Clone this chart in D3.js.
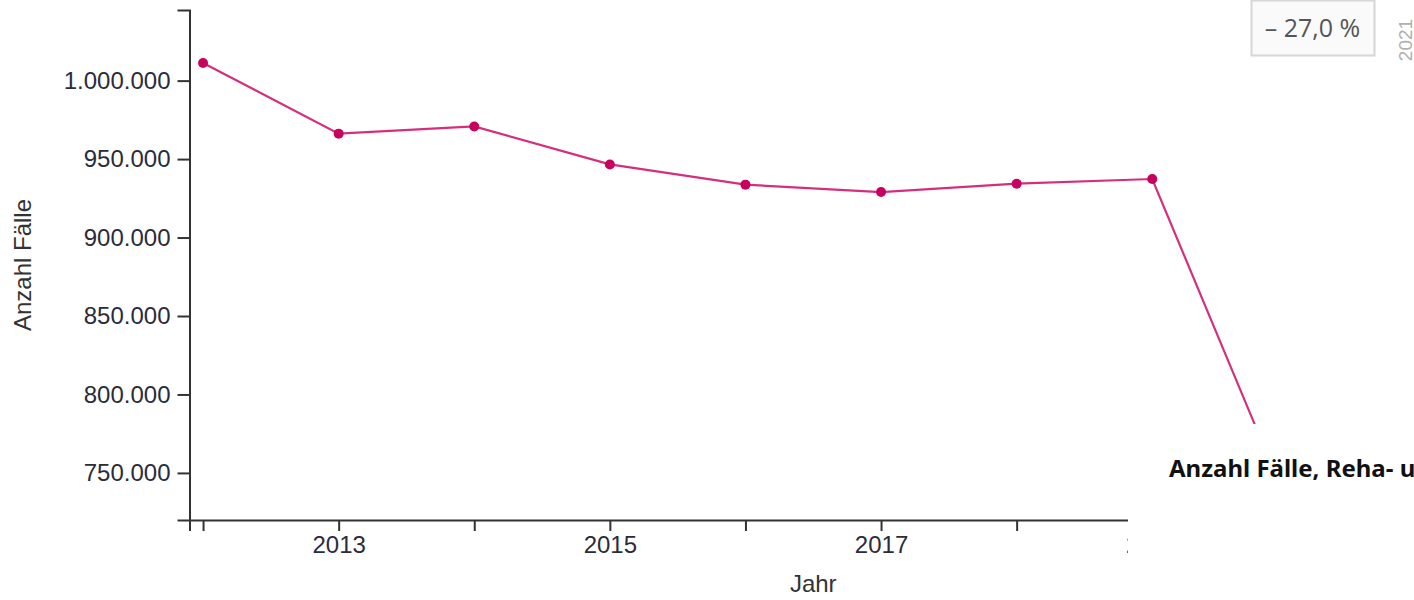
<!DOCTYPE html>
<html>
<head>
<meta charset="utf-8">
<script src="https://cdn.jsdelivr.net/npm/d3@7"></script>
<style>
  html, body { margin: 0; padding: 0; background: #fff; overflow: hidden; }
  svg { display: block; }
</style>
</head>
<body>
<svg id="chart" width="1414" height="600"></svg>
<script>
// Data
const years = [2012, 2013, 2014, 2015, 2016, 2017, 2018, 2019, 2020, 2021];
const cases = [1011200, 966200, 970800, 946600, 933700, 929000, 934300, 937300, 730400, 738000];
const yTicks = [750000, 800000, 850000, 900000, 950000, 1000000];
const changeLabel = "\u2013 27,0 %";
const lastYearLabel = "2021";
const seriesName = "Anzahl Fälle, Reha- und Vorsorgeeinrichtungen";

const svg = d3.select("#chart");
const fontAxis = "'Liberation Sans', Arial, sans-serif";

const x = d3.scaleLinear().domain([2011.9, 2021.1]).range([189.5, 1437]);
const y = d3.scaleLinear().domain([720000, 1045000]).range([520, 10]);

const fmt = d => d3.format(",")(d).replace(/,/g, ".");

// Y axis
const yAxis = svg.append("g")
  .attr("transform", "translate(189.5,0)")
  .call(d3.axisLeft(y).tickValues(yTicks).tickSize(12).tickPadding(7).tickFormat(fmt));
yAxis.selectAll("path, line").attr("stroke", "#333").attr("stroke-width", 2);
yAxis.selectAll("text").attr("font-family", fontAxis).attr("font-size", 24).attr("fill", "#2b2b3a");

// X axis
const xAxis = svg.append("g")
  .attr("transform", "translate(0,520)")
  .call(d3.axisBottom(x).tickValues(years).tickSize(11).tickPadding(5)
    .tickFormat(d => (d % 2 === 1 ? String(d) : "")));
xAxis.selectAll("path, line").attr("stroke", "#333").attr("stroke-width", 2);
xAxis.selectAll("text").attr("font-family", fontAxis).attr("font-size", 24).attr("fill", "#2b2b3a");

// Axis titles
svg.append("text")
  .attr("transform", "translate(31,265) rotate(-90)")
  .attr("text-anchor", "middle")
  .attr("font-family", fontAxis).attr("font-size", 24).attr("fill", "#333")
  .text("Anzahl Fälle");
svg.append("text")
  .attr("x", (x.range()[0] + x.range()[1]) / 2).attr("y", 592)
  .attr("text-anchor", "middle")
  .attr("font-family", fontAxis).attr("font-size", 24).attr("fill", "#333")
  .text("Jahr");

// Line + points
const data = years.map((yr, i) => ({ yr, v: cases[i] }));
svg.append("path")
  .datum(data)
  .attr("fill", "none")
  .attr("stroke", "#d42f7c")
  .attr("stroke-width", 2.2)
  .attr("d", d3.line().x(d => x(d.yr)).y(d => y(d.v)));
svg.append("g").selectAll("circle")
  .data(data).join("circle")
  .attr("cx", d => x(d.yr)).attr("cy", d => y(d.v)).attr("r", 5)
  .attr("fill", "#c8005e");

// Change box
svg.append("rect")
  .attr("x", 1251.5).attr("y", 0.5).attr("width", 123).attr("height", 55)
  .attr("fill", "#fafafa").attr("stroke", "#d6d6d6").attr("stroke-width", 2);
svg.append("text")
  .attr("x", 1312.5).attr("y", 37)
  .attr("text-anchor", "middle")
  .attr("font-family", "'Open Sans', sans-serif").attr("font-size", 25).attr("fill", "#555")
  .text(changeLabel);
svg.append("text")
  .attr("transform", "translate(1412,40) rotate(-90)")
  .attr("text-anchor", "middle")
  .attr("font-family", fontAxis).attr("font-size", 19).attr("fill", "#b0b0b0")
  .text(lastYearLabel);

// Tooltip overlay
svg.append("rect")
  .attr("x", 1128).attr("y", 424).attr("width", 400).attr("height", 200)
  .attr("fill", "#fff");
svg.append("text")
  .attr("x", 1169).attr("y", 477)
  .attr("font-family", "'Noto Sans', sans-serif").attr("font-weight", "bold")
  .attr("font-size", 24).attr("fill", "#111")
  .text(seriesName);
</script>
</body>
</html>
